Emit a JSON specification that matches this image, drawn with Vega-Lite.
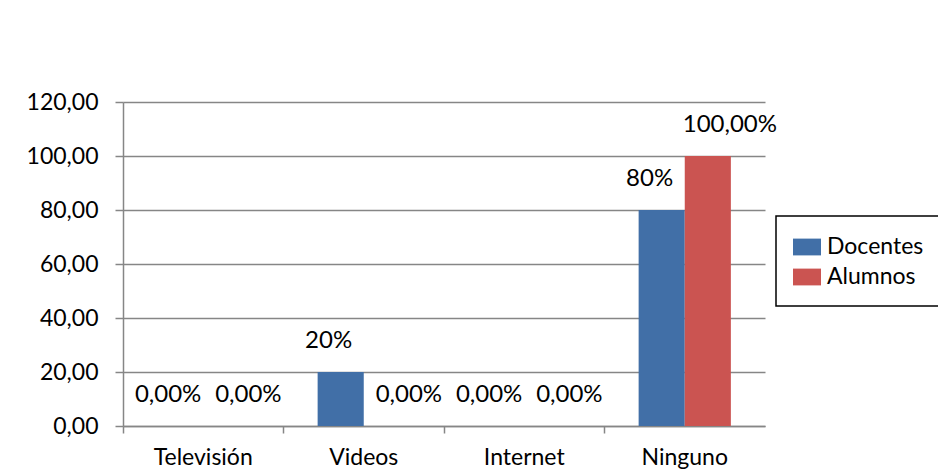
{
  "$schema": "https://vega.github.io/schema/vega-lite/v6.json",
  "width": 642,
  "height": 324,
  "autosize": {"type": "none"},
  "padding": {"left": 123, "top": 102, "right": 173, "bottom": 47},
  "background": "white",
  "config": {
    "font": "Lato",
    "view": {"stroke": null},
    "axis": {"labelFont": "Lato", "labelFontSize": 23, "labelColor": "#000000"},
    "legend": {"strokeWidth": 1.5}
  },
  "data": {
    "values": [
      {"categoria": "Televisión", "serie": "Docentes", "valor": 0, "etiqueta": "0,00%"},
      {"categoria": "Televisión", "serie": "Alumnos", "valor": 0, "etiqueta": "0,00%"},
      {"categoria": "Videos", "serie": "Docentes", "valor": 20, "etiqueta": "20%"},
      {"categoria": "Videos", "serie": "Alumnos", "valor": 0, "etiqueta": "0,00%"},
      {"categoria": "Internet", "serie": "Docentes", "valor": 0, "etiqueta": "0,00%"},
      {"categoria": "Internet", "serie": "Alumnos", "valor": 0, "etiqueta": "0,00%"},
      {"categoria": "Ninguno", "serie": "Docentes", "valor": 80, "etiqueta": "80%"},
      {"categoria": "Ninguno", "serie": "Alumnos", "valor": 100, "etiqueta": "100,00%"}
    ]
  },
  "encoding": {
    "x": {
      "field": "categoria", "type": "nominal",
      "sort": ["Televisión", "Videos", "Internet", "Ninguno"],
      "scale": {"paddingInner": 0, "paddingOuter": 0},
      "axis": {
        "title": null, "labelAngle": 0, "bandPosition": 0,
        "domainColor": "#868686", "domainWidth": 1.5,
        "tickColor": "#868686", "tickWidth": 1.5, "tickSize": 7,
        "labelPadding": 13, "labelBaseline": "top", "grid": false
      }
    },
    "y": {
      "field": "valor", "type": "quantitative",
      "scale": {"domain": [0, 120], "nice": false},
      "axis": {
        "title": null, "values": [0, 20, 40, 60, 80, 100, 120],
        "labelExpr": "replace(format(datum.value, '.2f'), '.', ',')",
        "grid": true, "gridColor": "#868686", "gridWidth": 1.5,
        "domainColor": "#868686", "domainWidth": 1.5,
        "tickColor": "#868686", "tickWidth": 1.5, "tickSize": 8,
        "labelPadding": 17
      }
    }
  },
  "resolve": {"scale": {"xOffset": "independent"}},
  "layer": [
    {
      "mark": {"type": "bar"},
      "encoding": {
        "xOffset": {
          "field": "serie", "type": "nominal",
          "sort": ["Docentes", "Alumnos"],
          "scale": {"paddingInner": 0, "paddingOuter": 0.74}
        },
        "color": {
          "field": "serie", "type": "nominal",
          "sort": ["Docentes", "Alumnos"],
          "scale": {"domain": ["Docentes", "Alumnos"], "range": ["#416fa7", "#cb5451"]},
          "legend": {
            "title": null, "orient": "none", "legendX": 653, "legendY": 114,
            "strokeColor": "#000000", "fillColor": "white",
            "padding": 17, "labelFontSize": 23, "labelFont": "Lato", "labelColor": "#000000",
            "symbolType": "M-1,-0.6H1V0.6H-1Z", "symbolSize": 784,
            "symbolStrokeWidth": 0, "symbolOpacity": 1, "labelOffset": 6, "rowPadding": 4
          }
        }
      }
    },
    {
      "mark": {"type": "text", "dy": -31, "dx": 5, "fontSize": 24, "font": "Lato", "color": "#000000", "baseline": "middle"},
      "encoding": {
        "xOffset": {
          "field": "serie", "type": "nominal",
          "sort": ["Docentes", "Alumnos"],
          "scale": {"type": "point", "padding": 0.5}
        },
        "text": {"field": "etiqueta"}
      }
    }
  ]
}
